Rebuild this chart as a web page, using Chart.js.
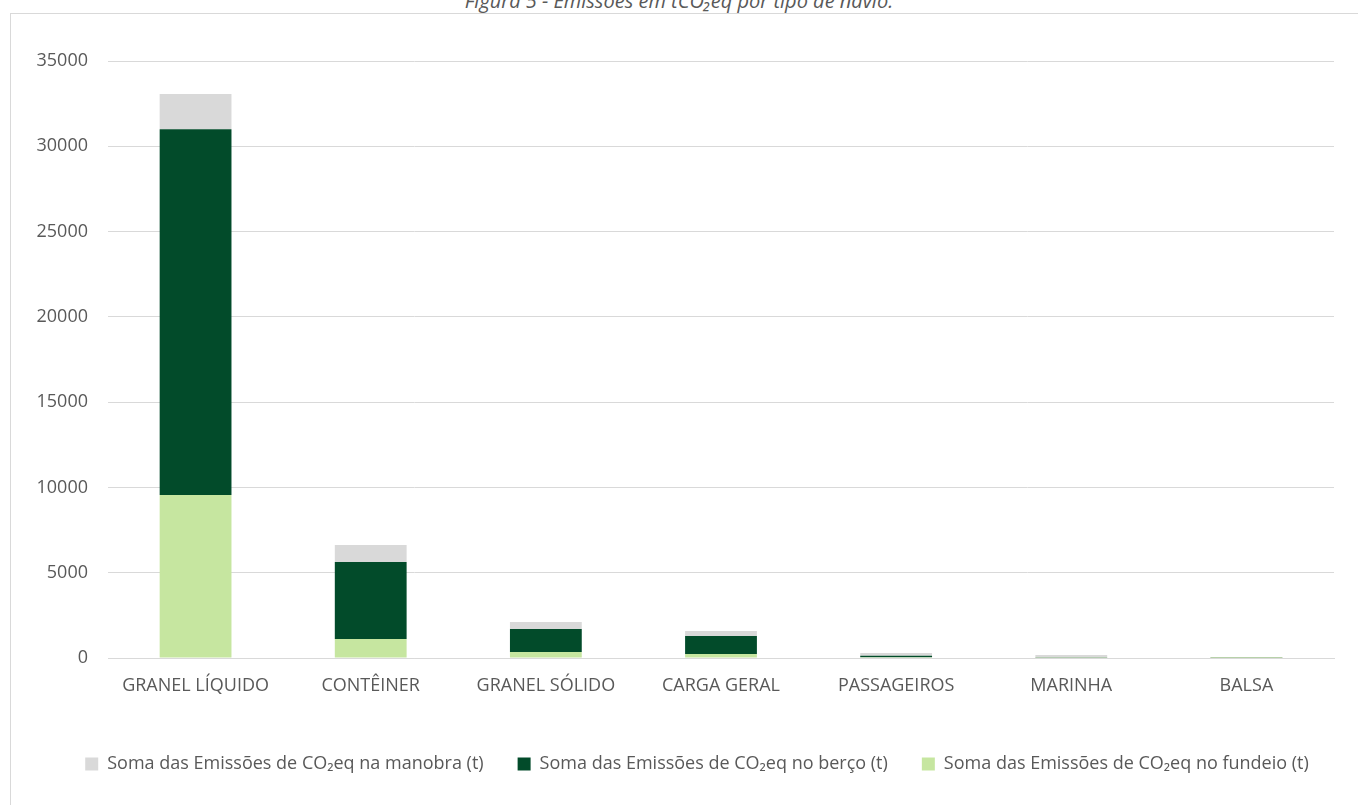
<!DOCTYPE html>
<html lang="pt">
<head>
<meta charset="utf-8">
<title>Emissões por tipo de navio</title>
<script src="https://cdn.jsdelivr.net/npm/chart.js@4/dist/chart.umd.min.js"></script>
<style>
  html, body { margin: 0; padding: 0; background: #fff; overflow: hidden; }
  #wrap { position: relative; width: 1358px; height: 805px; }
  #frame {
    position: absolute; left: 10px; top: 13px; width: 1400px; height: 850px;
    border: 1px solid #d9d9d9; box-sizing: border-box;
  }
  #titulo {
    position: absolute; left: 0; width: 1358px; top: -13px; text-align: center;
    font-family: "Open Sans", sans-serif; font-style: italic; font-size: 20px; color: #595959;
  }
  canvas { position: absolute; left: 0; top: 0; }
</style>
</head>
<body>
<div id="wrap">
  <div id="titulo">Figura 5 - Emissões em tCO₂eq por tipo de navio.</div>
  <div id="frame"></div>
  <canvas id="grafico" width="1358" height="805"></canvas>
</div>
<script>
// tipos de navio
const categorias = ['GRANEL LÍQUIDO', 'CONTÊINER', 'GRANEL SÓLIDO', 'CARGA GERAL', 'PASSAGEIROS', 'MARINHA', 'BALSA'];

// emissões em t CO2eq por fase
const fundeio = [9550, 1110, 350, 230, 50, 10, 5];
const berco   = [21450, 4520, 1350, 1060, 80, 20, 15];
const manobra = [2060, 990, 410, 290, 160, 150, 40];

const nomes = [
  'Soma das Emissões de CO₂eq no fundeio (t)',
  'Soma das Emissões de CO₂eq no berço (t)',
  'Soma das Emissões de CO₂eq na manobra (t)'
];

const fonte = { family: "'Open Sans', sans-serif", size: 18 };

// empurra a legenda um pouco para a direita, centrada na moldura
const deslocaLegenda = {
  id: 'deslocaLegenda',
  afterLayout(chart) {
    chart.legend.left += 25;
    chart.legend.right += 25;
  }
};

new Chart(document.getElementById('grafico'), {
  type: 'bar',
  data: {
    labels: categorias,
    datasets: [
      { label: nomes[0], data: fundeio, backgroundColor: '#c6e6a0' },
      { label: nomes[1], data: berco, backgroundColor: '#024b2a' },
      { label: nomes[2], data: manobra, backgroundColor: '#d9d9d9' }
    ]
  },
  plugins: [deslocaLegenda],
  options: {
    responsive: false,
    animation: false,
    categoryPercentage: 1,
    barPercentage: 0.41,
    layout: { padding: { left: 10, right: 24, top: 61, bottom: 22 } },
    plugins: {
      title: { display: false },
      tooltip: { enabled: false },
      legend: {
        position: 'bottom',
        reverse: true,
        labels: {
          boxWidth: 13, boxHeight: 13, padding: 34,
          color: '#595959', font: fonte
        }
      }
    },
    scales: {
      x: {
        stacked: true,
        grid: { display: false, drawTicks: false },
        border: { color: '#d9d9d9' },
        ticks: { color: '#595959', font: fonte, padding: 17 },
        afterFit: (s) => { s.height = 63; }
      },
      y: {
        stacked: true,
        min: 0, max: 35000,
        grid: { color: '#d9d9d9', drawTicks: false },
        border: { display: false },
        ticks: {
          stepSize: 5000, color: '#595959', font: fonte, padding: 20,
          callback: (v) => String(v)
        },
        afterFit: (s) => { s.width = 98; }
      }
    }
  }
});
</script>
</body>
</html>
